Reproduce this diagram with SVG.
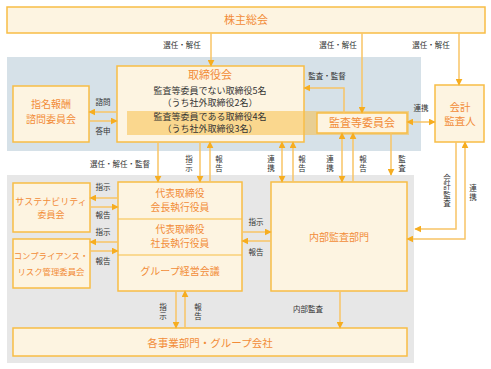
<svg xmlns="http://www.w3.org/2000/svg" width="491" height="369" viewBox="0 0 491 369">
<style>
.bx{fill:#fdf4e1;stroke:#f8bd45;stroke-width:1.5}
.t{font-family:"Noto Sans CJK JP","Noto Sans",sans-serif;fill:#f28c38;text-anchor:middle}
.b{font-family:"Noto Sans CJK JP","Noto Sans",sans-serif;fill:#333;text-anchor:middle;font-size:9px}
.l{font-family:"Noto Sans CJK JP","Noto Sans",sans-serif;fill:#333;text-anchor:middle;font-size:7.5px}
.v{font-family:"Noto Sans CJK JP","Noto Sans",sans-serif;fill:#333;text-anchor:middle;font-size:7.5px;writing-mode:vertical-rl;letter-spacing:1px}
.c{fill:none;stroke:#f8c466;stroke-width:1.5}
</style>
<defs>
<marker id="ah" viewBox="0 0 10 10" refX="9" refY="5" markerWidth="7" markerHeight="7" markerUnits="userSpaceOnUse" orient="auto-start-reverse">
<path d="M0,0L10,5L0,10z" fill="#f6ad20"/>
</marker>
</defs>
<rect x="7" y="57" width="414" height="94" fill="#d6e1e8"/>
<rect x="7" y="175" width="407" height="188" fill="#e7e7e7"/>

<g id="shareholders">
<rect class="bx" x="7" y="7" width="478" height="26"/>
<text class="t" x="246" y="24" font-size="11">株主総会</text>
</g>

<g id="board">
<rect class="bx" x="117" y="66" width="187" height="76"/>
<text class="t" x="210" y="79" font-size="11">取締役会</text>
<text class="b" x="210" y="94">監査等委員でない取締役5名<tspan x="210" dy="12">（うち社外取締役2名）</tspan></text>
</g>
<rect x="127" y="111" width="282" height="24" fill="#f8c04a" fill-opacity="0.55"/>
<text class="b" x="210" y="119.5">監査等委員である取締役4名<tspan x="210" dy="12">（うち社外取締役3名）</tspan></text>

<g id="auditcommittee">
<rect class="bx" x="317" y="113" width="90" height="20"/>
<text class="t" x="362" y="127" font-size="11">監査等委員会</text>
</g>

<g id="accountingauditor">
<rect class="bx" x="435" y="85" width="49" height="57"/>
<text class="t" x="460" y="111" font-size="10.5">会計<tspan x="460" dy="14">監査人</tspan></text>
</g>

<g id="nomination">
<rect class="bx" x="13" y="86" width="76" height="56"/>
<text class="t" x="51" y="108" font-size="10">指名報酬<tspan x="51" dy="15">諮問委員会</tspan></text>
</g>

<g id="sustainability">
<rect class="bx" x="13" y="183" width="77" height="49"/>
<text class="t" x="51" y="205" font-size="9">サステナビリティ<tspan x="51" dy="13">委員会</tspan></text>
</g>

<g id="compliance">
<rect class="bx" x="13" y="239" width="77" height="49"/>
<text class="t" x="51" y="259" font-size="8.4">コンプライアンス・<tspan x="51" dy="16">リスク管理委員会</tspan></text>
</g>

<g id="representative">
<rect class="bx" x="118" y="182" width="124" height="109"/>
<line x1="118" y1="219" x2="242" y2="219" stroke="#f8bd45" stroke-width="1.2"/>
<line x1="118" y1="255" x2="242" y2="255" stroke="#f8bd45" stroke-width="1.2"/>
<text class="t" x="180" y="197" font-size="9.8">代表取締役<tspan x="180" dy="14">会長執行役員</tspan></text>
<text class="t" x="180" y="233" font-size="9.8">代表取締役<tspan x="180" dy="14">社長執行役員</tspan></text>
<text class="t" x="180" y="275" font-size="10">グループ経営会議</text>
</g>

<g id="internalaudit">
<rect class="bx" x="271" y="182" width="136" height="109"/>
<text class="t" x="339" y="241" font-size="10">内部監査部門</text>
</g>

<g id="business">
<rect class="bx" x="13" y="328" width="394" height="28"/>
<text class="t" x="210" y="347" font-size="10.5">各事業部門・グループ会社</text>
</g>

<g id="connectors">
<path class="c" d="M211,33V66" marker-end="url(#ah)"/>
<path class="c" d="M362,33V113" marker-end="url(#ah)"/>
<path class="c" d="M459,33V85" marker-end="url(#ah)"/>
<path class="c" d="M344,113V88H304" marker-end="url(#ah)"/>
<path class="c" d="M407,122H435" marker-start="url(#ah)" marker-end="url(#ah)"/>
<path class="c" d="M117,112H89" marker-end="url(#ah)"/>
<path class="c" d="M89,121H117" marker-end="url(#ah)"/>
<path class="c" d="M158,142V182" marker-end="url(#ah)"/>
<path class="c" d="M200,142V182" marker-end="url(#ah)"/>
<path class="c" d="M210,182V142" marker-end="url(#ah)"/>
<path class="c" d="M282,142V182" marker-start="url(#ah)" marker-end="url(#ah)"/>
<path class="c" d="M293,182V142" marker-end="url(#ah)"/>
<path class="c" d="M342,133V182" marker-start="url(#ah)" marker-end="url(#ah)"/>
<path class="c" d="M353,182V133" marker-end="url(#ah)"/>
<path class="c" d="M391,133V175" marker-end="url(#ah)"/>
<path class="c" d="M456,142V229H415" marker-end="url(#ah)"/>
<path class="c" d="M465,142V239H407" marker-start="url(#ah)" marker-end="url(#ah)"/>
<path class="c" d="M118,198H90" marker-end="url(#ah)"/>
<path class="c" d="M90,207H118" marker-end="url(#ah)"/>
<path class="c" d="M118,242H90" marker-end="url(#ah)"/>
<path class="c" d="M90,251H118" marker-end="url(#ah)"/>
<path class="c" d="M242,232H271" marker-end="url(#ah)"/>
<path class="c" d="M271,241H242" marker-end="url(#ah)"/>
<path class="c" d="M176,291V328" marker-end="url(#ah)"/>
<path class="c" d="M185,328V291" marker-end="url(#ah)"/>
<path class="c" d="M340,291V328" marker-end="url(#ah)"/>
</g>

<g id="labels">
<text class="l" x="182" y="48">選任・解任</text>
<text class="l" x="338" y="48">選任・解任</text>
<text class="l" x="431" y="48">選任・解任</text>
<text class="l" x="327" y="79">監査・監督</text>
<text class="l" x="421" y="111">連携</text>
<text class="l" x="103" y="105">諮問</text>
<text class="l" x="103" y="134">答申</text>
<text class="l" x="120" y="167">選任・解任・監督</text>
<text class="v" x="189" y="164">指示</text>
<text class="v" x="219" y="164">報告</text>
<text class="v" x="271" y="164">連携</text>
<text class="v" x="302" y="164">報告</text>
<text class="v" x="330" y="164">連携</text>
<text class="v" x="363" y="164">報告</text>
<text class="v" x="402" y="164">監査</text>
<text class="v" x="447" y="191">会計監査</text>
<text class="v" x="473" y="193">連携</text>
<text class="l" x="103" y="190">指示</text>
<text class="l" x="103" y="218">報告</text>
<text class="l" x="103" y="235">指示</text>
<text class="l" x="103" y="264">報告</text>
<text class="l" x="256" y="225">指示</text>
<text class="l" x="256" y="255">報告</text>
<text class="v" x="163" y="312">指示</text>
<text class="v" x="198" y="312">報告</text>
<text class="l" x="308" y="312">内部監査</text>
</g>
</svg>
